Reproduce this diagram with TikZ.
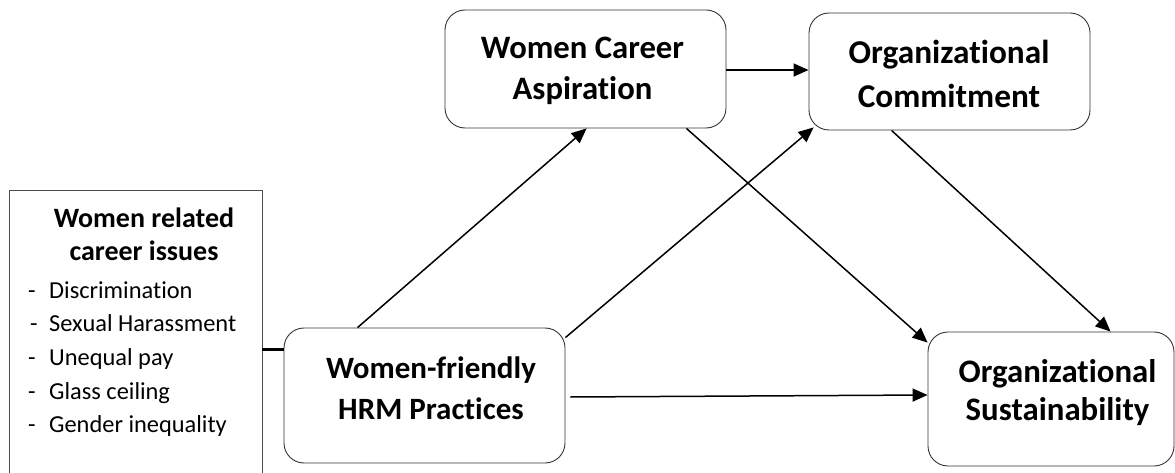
\documentclass[tikz,border=0pt]{standalone}
\usepackage{fontspec}
\setmainfont{Carlito}[Ligatures={NoCommon,NoRare,NoContextual}]
\usetikzlibrary{arrows.meta}
\begin{document}
\begin{tikzpicture}[x=1pt,y=-1pt,
  box/.style={draw=black!80, line width=0.9pt, rounded corners=20pt, inner sep=0pt},
  lbl/.style={font=\bfseries\fontsize{32.7}{41}\selectfont, align=center, inner sep=0pt},
  item/.style={font=\fontsize{24.4}{30}\selectfont, inner sep=0pt, anchor=base west},
  arr/.style={line width=1.5pt, -{Triangle[length=15pt,width=13pt]}},
]
\useasboundingbox (0,0) rectangle (1175,473);
\fill[white] (0,0) rectangle (1175,473);
\clip (0,0) rectangle (1175,473);
% boxes
\node[box, minimum width=281pt, minimum height=118pt] (wca) at (585.5,69) {};
\node[box, minimum width=281pt, minimum height=117pt] (oc) at (949.5,71.5) {};
\node[box, minimum width=281pt, minimum height=135pt] (hrm) at (424.5,395.5) {};
\node[box, minimum width=246pt, minimum height=134pt] (os) at (1051,399) {};
\node[draw=black!70, line width=0.9pt, minimum width=253pt, minimum height=320pt, inner sep=0pt] (issues) at (135.5,350) {};
% labels
\node[lbl] (wcat) at (582.5,71) {Women Career\\Aspiration};
\node[lbl, font=\bfseries\fontsize{33.3}{44}\selectfont] (oct) at (949,73.5) {Organizational\\Commitment};
\node[lbl, font=\bfseries\fontsize{31}{41}\selectfont] (hrmt) at (431,388.5) {Women-friendly\\HRM Practices};
\node[lbl, font=\bfseries\fontsize{32.8}{38}\selectfont] (ost) at (1057.5,392.5) {Organizational\\Sustainability};
\node[font=\bfseries\fontsize{28}{32}\selectfont, inner sep=0pt, anchor=base] (isst1) at (144,228) {Women related};
\node[font=\bfseries\fontsize{28}{32}\selectfont, inner sep=0pt, anchor=base] (isst2) at (144,260) {career issues};
\node[item] (i1) at (28,298) {\makebox[21pt][l]{-}Discrimination};
\node[item] (i2) at (30,331) {\makebox[19pt][l]{-}Sexual Harassment};
\node[item] (i3) at (28,365) {\makebox[21pt][l]{-}Unequal pay};
\node[item] (i4) at (28,399) {\makebox[21pt][l]{-}Glass ceiling};
\node[item] (i5) at (28,432) {\makebox[21pt][l]{-}Gender inequality};
% connectors
\coordinate (link) at (0,349);
\draw[line width=3pt] (issues.east |- link) -- (hrm.west |- link);
\draw[arr] ([yshift=-1pt]wca.east) -- ([yshift=1.5pt]oc.west);
\draw[arr] ([xshift=74pt]hrm.north west) -- ([xshift=142pt]wca.south west);
\draw[arr] ([yshift=-10pt]hrm.north east) -- ([xshift=5pt,yshift=3pt]oc.south west);
\draw[arr] ([xshift=-40pt]wca.south east) -- ([yshift=-11pt]os.north west);
\draw[arr] ([xshift=83pt]oc.south west) -- ([xshift=183pt]os.north west);
\draw[arr] ([xshift=5pt,yshift=-1.5pt]hrm.east) -- ([yshift=4pt]os.west);
\end{tikzpicture}
\end{document}
